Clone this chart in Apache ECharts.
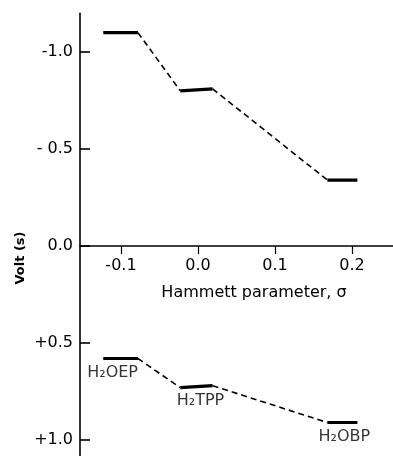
<!DOCTYPE html>
<html>
<head>
<meta charset="utf-8">
<script src="https://cdn.jsdelivr.net/npm/echarts@6/dist/echarts.min.js"></script>
<style>
html,body{margin:0;padding:0;background:#fff;}
#chart{width:393px;height:456px;}
</style>
</head>
<body>
<div id="chart"></div>
<script>
// ---- data ----
const compounds = ['H₂OEP', 'H₂TPP', 'H₂OBP'];
const sigmaLeft = [-0.123, -0.023, 0.168];
const sigmaRight = [-0.078, 0.019, 0.207];
const reductionLeft = [-1.10, -0.80, -0.34];
const reductionRight = [-1.10, -0.81, -0.34];
const oxidationLeft = [0.58, 0.73, 0.91];
const oxidationRight = [0.58, 0.72, 0.91];
const xTickValues = [-0.1, 0.0, 0.1, 0.2];
const xTickLabels = ['-0.1', '0.0', '0.1', '0.2'];
const yTickValues = [-1.0, -0.5, 0.0, 0.5, 1.0];
const yTickLabels = ['-1.0', '- 0.5', '0.0', '+0.5', '+1.0'];

// ---- styles ----
const FONT = 'DejaVu Sans';
const labelDx = [-8, 4, 2];
const Y_MIN = -1.2, Y_MAX = 1.08, GRID_TOP = 13.2, GRID_BOTTOM = 0.5, H = 456;

const series = [];
function addLevels(left, right) {
  for (let i = 0; i < compounds.length; i++) {
    series.push({
      type: 'line', symbol: 'none', silent: true,
      data: [[sigmaLeft[i], left[i]], [sigmaRight[i], right[i]]],
      lineStyle: { color: '#000', width: 3.2 }
    });
    if (i < compounds.length - 1) {
      series.push({
        type: 'line', symbol: 'none', silent: true,
        data: [[sigmaRight[i], right[i]], [sigmaLeft[i + 1], left[i + 1]]],
        lineStyle: { color: '#000', width: 1.6, type: [6, 4] }
      });
    }
  }
}
addLevels(reductionLeft, reductionRight);
addLevels(oxidationLeft, oxidationRight);

series.push({
  type: 'scatter', symbolSize: 0, silent: true,
  data: compounds.map((c, i) => ({
    value: [(sigmaLeft[i] + sigmaRight[i]) / 2, (oxidationLeft[i] + oxidationRight[i]) / 2],
    label: { offset: [labelDx[i], 0] }
  })),
  label: {
    show: true, position: 'bottom', distance: 6,
    formatter: p => compounds[p.dataIndex],
    color: '#000', fontFamily: FONT, fontSize: 16
  }
});

// x axis drawn at y = 0 by shifting it up from the grid bottom
const gridH = H - GRID_TOP - GRID_BOTTOM;
const zeroOffset = -gridH * (Y_MAX - 0) / (Y_MAX - Y_MIN);

const chart = echarts.init(document.getElementById('chart'));
chart.setOption({
  animation: false,
  backgroundColor: '#fff',
  grid: { left: 80, right: 0, top: GRID_TOP, bottom: GRID_BOTTOM, outerBoundsMode: 'none' },
  xAxis: {
    type: 'value', min: -0.1532, max: 0.2532, position: 'bottom', offset: zeroOffset,
    axisLine: { onZero: false, lineStyle: { color: '#000', width: 1.6 } },
    axisTick: { show: true, inside: false, length: 8, customValues: xTickValues, lineStyle: { color: '#000', width: 1.2 } },
    axisLabel: {
      show: true, customValues: xTickValues, margin: 12, color: '#000', fontFamily: FONT, fontSize: 16,
      hideOverlap: false,
      formatter: v => { const k = xTickValues.findIndex(t => Math.abs(t - v) < 1e-9); return k >= 0 ? xTickLabels[k] : ''; }
    },
    splitLine: { show: false }
  },
  yAxis: {
    type: 'value', inverse: true, min: Y_MIN, max: Y_MAX,
    axisLine: { show: true, onZero: false, lineStyle: { color: '#000', width: 1.6 } },
    axisTick: { show: true, inside: true, length: 10, customValues: yTickValues, lineStyle: { color: '#000', width: 1.6 } },
    axisLabel: {
      customValues: yTickValues, margin: 7, color: '#000', fontFamily: FONT, fontSize: 16,
      formatter: v => { const k = yTickValues.findIndex(t => Math.abs(t - v) < 1e-9); return k >= 0 ? yTickLabels[k] : ''; }
    },
    splitLine: { show: false }
  },
  graphic: [
    { type: 'text', x: 254, y: 293, style: { text: 'Hammett parameter, σ', align: 'center', verticalAlign: 'middle', fill: '#000', font: '16px "DejaVu Sans"' } },
    { type: 'text', x: 21, y: 258, rotation: Math.PI / 2, style: { text: 'Volt (s)', align: 'center', verticalAlign: 'middle', fill: '#000', font: 'bold 13px "DejaVu Sans"' } }
  ],
  series: series
});
</script>
</body>
</html>
